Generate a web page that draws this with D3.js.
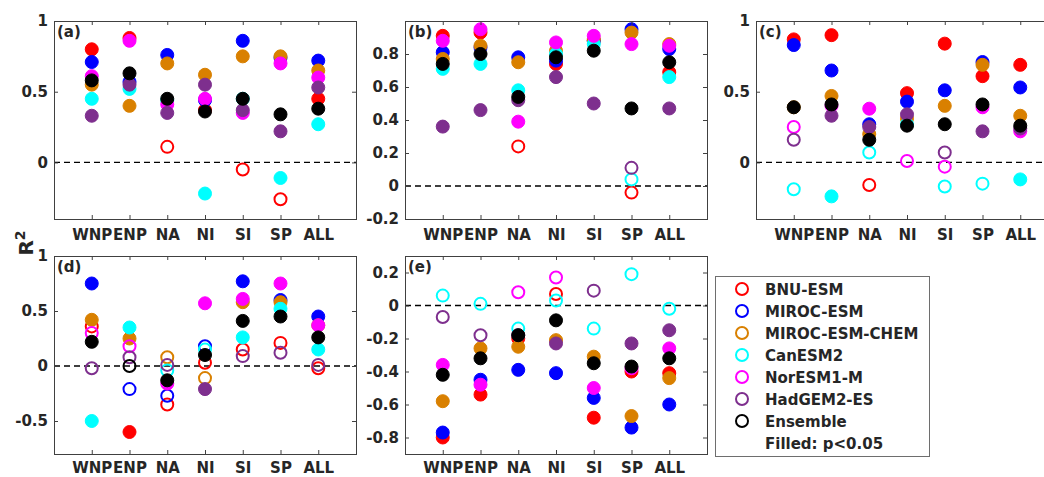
<!DOCTYPE html>
<html>
<head>
<meta charset="utf-8">
<script src="https://cdn.jsdelivr.net/npm/d3@7"></script>
<style>
body { margin: 0; background: #fff; }
svg text { font-family: "DejaVu Sans", sans-serif; font-weight: bold; fill: #262626; }
</style>
</head>
<body>
<div id="chart"></div>
<script>
const regions = ["WNP", "ENP", "NA", "NI", "SI", "SP", "ALL"];
const models = ["BNU-ESM", "MIROC-ESM", "MIROC-ESM-CHEM", "CanESM2", "NorESM1-M", "HadGEM2-ES", "Ensemble"];
const modelColors = ["#ff0000", "#0000ff", "#d98000", "#00ffff", "#ff00ff", "#7e2f8e", "#000000"];

// one row per model, columns follow regions; sig 1 = filled (p<0.05)
const valuesA = [
	[0.80, 0.88, 0.11, 0.37, -0.05, -0.26, 0.45],
	[0.71, 0.57, 0.76, 0.44, 0.86, 0.74, 0.72],
	[0.55, 0.40, 0.70, 0.62, 0.75, 0.75, 0.65],
	[0.45, 0.52, 0.44, -0.22, 0.45, -0.11, 0.27],
	[0.61, 0.86, 0.41, 0.45, 0.35, 0.70, 0.60],
	[0.33, 0.55, 0.35, 0.55, 0.37, 0.22, 0.53],
	[0.58, 0.63, 0.45, 0.36, 0.45, 0.34, 0.38]
];
const sigA = [
	[1, 1, 0, 1, 0, 0, 1],
	[1, 1, 1, 1, 1, 1, 1],
	[1, 1, 1, 1, 1, 1, 1],
	[1, 1, 1, 1, 1, 1, 1],
	[1, 1, 1, 1, 1, 1, 1],
	[1, 1, 1, 1, 1, 1, 1],
	[1, 1, 1, 1, 1, 1, 1]
];

const valuesB = [
	[0.91, 0.93, 0.24, 0.74, 0.88, -0.04, 0.69],
	[0.81, 0.84, 0.78, 0.76, 0.88, 0.95, 0.83],
	[0.77, 0.85, 0.75, 0.82, 0.89, 0.93, 0.86],
	[0.71, 0.74, 0.58, 0.80, 0.86, 0.04, 0.66],
	[0.88, 0.95, 0.39, 0.87, 0.91, 0.86, 0.85],
	[0.36, 0.46, 0.52, 0.66, 0.50, 0.11, 0.47],
	[0.74, 0.80, 0.54, 0.78, 0.82, 0.47, 0.75]
];
const sigB = [
	[1, 1, 0, 1, 1, 0, 1],
	[1, 1, 1, 1, 1, 1, 1],
	[1, 1, 1, 1, 1, 1, 1],
	[1, 1, 1, 1, 1, 0, 1],
	[1, 1, 1, 1, 1, 1, 1],
	[1, 1, 1, 1, 1, 0, 1],
	[1, 1, 1, 1, 1, 1, 1]
];

const valuesC = [
	[0.87, 0.90, -0.16, 0.49, 0.84, 0.61, 0.69],
	[0.83, 0.65, 0.27, 0.43, 0.51, 0.71, 0.53],
	[0.39, 0.47, 0.20, 0.31, 0.40, 0.69, 0.33],
	[-0.19, -0.24, 0.07, 0.27, -0.17, -0.15, -0.12],
	[0.25, 0.40, 0.38, 0.01, -0.03, 0.39, 0.22],
	[0.16, 0.33, 0.25, 0.34, 0.07, 0.22, 0.24],
	[0.39, 0.41, 0.16, 0.26, 0.27, 0.41, 0.26]
];
const sigC = [
	[1, 1, 0, 1, 1, 1, 1],
	[1, 1, 1, 1, 1, 1, 1],
	[1, 1, 1, 1, 1, 1, 1],
	[0, 1, 0, 1, 0, 0, 1],
	[0, 1, 1, 0, 0, 1, 1],
	[0, 1, 1, 1, 0, 1, 1],
	[1, 1, 1, 1, 1, 1, 1]
];

const valuesD = [
	[0.36, -0.60, -0.35, 0.03, 0.15, 0.21, -0.02],
	[0.75, -0.21, -0.27, 0.18, 0.77, 0.60, 0.45],
	[0.42, 0.25, 0.08, -0.11, 0.58, 0.58, 0.37],
	[-0.50, 0.35, -0.04, 0.15, 0.26, 0.52, 0.15],
	[0.30, 0.18, -0.16, 0.57, 0.61, 0.75, 0.37],
	[-0.02, 0.08, 0.01, -0.21, 0.09, 0.12, 0.01],
	[0.22, 0.00, -0.13, 0.10, 0.41, 0.45, 0.26]
];
const sigD = [
	[0, 1, 0, 0, 0, 0, 0],
	[1, 0, 0, 0, 1, 1, 1],
	[1, 1, 0, 0, 1, 1, 1],
	[1, 1, 0, 0, 1, 1, 1],
	[0, 0, 1, 1, 1, 1, 1],
	[0, 0, 0, 1, 0, 0, 0],
	[1, 0, 1, 1, 1, 1, 1]
];

const valuesE = [
	[-0.80, -0.54, -0.20, 0.07, -0.68, -0.40, -0.41],
	[-0.77, -0.45, -0.39, -0.41, -0.56, -0.74, -0.60],
	[-0.58, -0.26, -0.25, -0.21, -0.31, -0.67, -0.44],
	[0.06, 0.01, -0.14, 0.03, -0.14, 0.19, -0.02],
	[-0.36, -0.48, 0.08, 0.17, -0.50, -0.38, -0.26],
	[-0.07, -0.18, -0.18, -0.23, 0.09, -0.23, -0.15],
	[-0.42, -0.32, -0.18, -0.09, -0.35, -0.37, -0.32]
];
const sigE = [
	[1, 1, 1, 0, 1, 1, 1],
	[1, 1, 1, 1, 1, 1, 1],
	[1, 1, 1, 1, 1, 1, 1],
	[0, 0, 0, 0, 0, 0, 0],
	[1, 1, 0, 0, 1, 1, 1],
	[0, 0, 1, 1, 0, 1, 1],
	[1, 1, 1, 1, 1, 1, 1]
];

const ticksA = [0, 0.5, 1];
const ticksB = [-0.2, 0, 0.2, 0.4, 0.6, 0.8];
const ticksC = [0, 0.5, 1];
const ticksD = [-0.5, 0, 0.5, 1];
const ticksE = [-0.8, -0.6, -0.4, -0.2, 0, 0.2];

const W = 1044, H = 477;
const boxW = 302, boxH = 198;

const panels = [
	{label: "(a)", values: valuesA, sig: sigA, domain: [-0.4, 1], ticks: ticksA, left: 54, top: 21, pad: 10},
	{label: "(b)", values: valuesB, sig: sigB, domain: [-0.2, 1], ticks: ticksB, left: 405, top: 21, pad: 10},
	{label: "(c)", values: valuesC, sig: sigC, domain: [-0.4, 1], ticks: ticksC, left: 756, top: 21, pad: 10},
	{label: "(d)", values: valuesD, sig: sigD, domain: [-0.8, 1], ticks: ticksD, left: 54, top: 256, pad: 8},
	{label: "(e)", values: valuesE, sig: sigE, domain: [-0.9, 0.3], ticks: ticksE, left: 405, top: 256, pad: 8}
];

const svg = d3.select("#chart").append("svg")
	.attr("width", W)
	.attr("height", H);

panels.forEach(p => drawPanel(p));

function drawPanel(p) {
	const g = svg.append("g").attr("transform", `translate(${p.left},${p.top})`);

	const x = d3.scalePoint().domain(regions).range([0, boxW]).padding(1);
	const y = d3.scaleLinear().domain(p.domain).range([boxH, 0]);

	g.append("rect")
		.attr("width", boxW).attr("height", boxH)
		.attr("fill", "#fff");

	//zero line
	g.append("line")
		.attr("x1", 0).attr("x2", boxW)
		.attr("y1", y(0)).attr("y2", y(0))
		.attr("stroke", "#000")
		.attr("stroke-width", 1.3)
		.attr("stroke-dasharray", "6,4");

	//markers, drawn model by model so the ensemble ends up on top
	models.forEach((m, i) => {
		const pts = regions.map((r, j) => ({r: r, v: p.values[i][j], s: p.sig[i][j]}));
		g.selectAll(".m" + i)
			.data(pts)
			.enter().append("circle")
			.attr("class", "m" + i)
			.attr("cx", d => x(d.r))
			.attr("cy", d => y(d.v))
			.attr("r", d => d.s ? 6.5 : 6)
			.attr("fill", d => d.s ? modelColors[i] : "none")
			.attr("stroke", modelColors[i])
			.attr("stroke-width", d => d.s ? 1 : 2);
	});

	const fmt = d => String(d);

	g.append("g")
		.call(d3.axisLeft(y).tickValues(p.ticks).tickFormat(fmt).tickSize(-4).tickPadding(6));
	g.append("g").attr("transform", `translate(${boxW},0)`)
		.call(d3.axisRight(y).tickValues(p.ticks).tickFormat("").tickSize(-4));
	g.append("g")
		.call(d3.axisTop(x).tickFormat("").tickSize(-4));
	g.append("g").attr("transform", `translate(0,${boxH})`)
		.call(d3.axisBottom(x).tickSize(-4).tickPadding(p.pad));

	g.selectAll(".domain").remove();
	g.selectAll(".tick line").attr("stroke", "#404040");
	g.selectAll(".tick text")
		.attr("font-family", null)
		.attr("font-size", null)
		.style("font-size", "15px");

	g.append("rect")
		.attr("x", 0.5).attr("y", 0.5)
		.attr("width", boxW).attr("height", boxH)
		.attr("fill", "none")
		.attr("stroke", "#404040")
		.attr("stroke-width", 1);

	g.append("text")
		.attr("x", 3).attr("y", 16)
		.style("font-size", "15px")
		.text(p.label);
}

//y label
const yl = svg.append("text")
	.attr("transform", "translate(33,243) rotate(-90)")
	.attr("text-anchor", "middle")
	.style("font-size", "20px");
yl.append("tspan").text("R");
yl.append("tspan").attr("dy", -8).style("font-size", "14px").text("2");

//legend
const lg = svg.append("g").attr("transform", "translate(715,276)");
lg.append("rect")
	.attr("x", 0.5).attr("y", 0.5)
	.attr("width", 214).attr("height", 180)
	.attr("fill", "#fff")
	.attr("stroke", "#6e6e6e");

const rows = lg.selectAll(".row")
	.data(models)
	.enter().append("g")
	.attr("class", "row")
	.attr("transform", (d, i) => `translate(0,${13 + i * 22})`);
rows.append("circle")
	.attr("cx", 27).attr("r", 6)
	.attr("fill", "none")
	.attr("stroke", (d, i) => modelColors[i])
	.attr("stroke-width", 2);
rows.append("text")
	.attr("x", 50).attr("y", 5.5)
	.style("font-size", "15px")
	.text(d => d);

lg.append("text")
	.attr("x", 50).attr("y", 13 + 7 * 22 + 5.5)
	.style("font-size", "15px")
	.text("Filled: p<0.05");
</script>
</body>
</html>
